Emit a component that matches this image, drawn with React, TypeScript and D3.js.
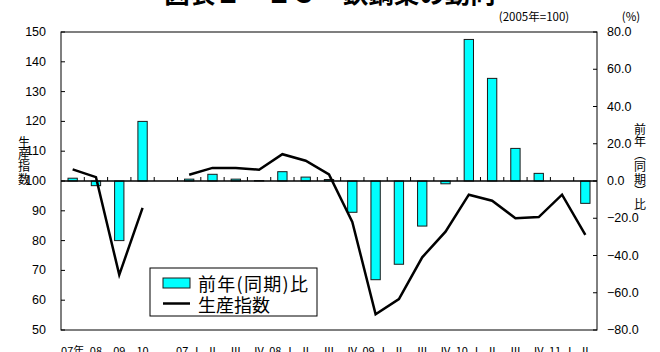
import React from "react";
import * as d3 from "d3";

const categories = ["07年", "08", "09", "10", "", "07.Ⅰ", "Ⅱ", "Ⅲ", "Ⅳ", "08.Ⅰ", "Ⅱ", "Ⅲ", "Ⅳ", "09.Ⅰ", "Ⅱ", "Ⅲ", "Ⅳ", "10.Ⅰ", "Ⅱ", "Ⅲ", "Ⅳ", "11.Ⅰ", "Ⅱ"];
const yoyChange: (number | null)[] = [1.5, -2.5, -32, 32, null, 1.0, 3.6, 1.0, 0.2, 5.0, 2.1, 0.8, -16.8, -53, -44.7, -24.2, -1.5, 76, 55.1, 17.5, 4.1, 0, -12];
const productionIndex: (number | null)[] = [103.9, 101.3, 68.5, 91.0, null, 102.1, 104.4, 104.4, 103.8, 109.0, 106.8, 102.2, 86.3, 55.3, 60.4, 74.4, 83.0, 95.4, 93.4, 87.5, 87.9, 95.4, 81.9];
const leftTicks = [50, 60, 70, 80, 90, 100, 110, 120, 130, 140, 150];
const rightTicks = [-80, -60, -40, -20, 0, 20, 40, 60, 80];
const title = "図表１－１３　鉄鋼業の動向";
const leftTitle = ["生", "産", "指", "数"];
const rightTitle = ["前", "年", "︵", "同", "期", "︶", "比"];

const W = 660, H = 352;
const L = 61, R = 597, T = 32, B = 330;
const JP = "'Noto Sans CJK JP', sans-serif";
const NUM = "'Liberation Sans', Arial, sans-serif";

export default function App() {
  const idx = categories.map((_, i) => String(i));
  const x = d3.scaleBand().domain(idx).range([L, R]).paddingInner(0).paddingOuter(0);
  const yL = d3.scaleLinear().domain([50, 150]).range([B, T]);
  const yR = d3.scaleLinear().domain([-80, 80]).range([B, T]);
  const bw = x.bandwidth() * 0.4;
  const cx = (i: number) => (x(String(i)) as number) + x.bandwidth() / 2;
  const line = d3
    .line<number | null>()
    .defined((d) => d != null)
    .x((_, i) => cx(i))
    .y((d) => yL(d as number));
  const fmt = d3.format(".1f");
  const y0 = yR(0);

  return (
    <svg width={W} height={H} style={{ position: "absolute", left: 0, top: 0, background: "#fff" }}>
      <rect x={0} y={0} width={W} height={H} fill="#fff" />
      <text x={330} y={3} textAnchor="middle" fontFamily={JP} fontWeight="bold" fontSize={25.5}>{title}</text>
      <text x={534} y={16} textAnchor="middle" dominantBaseline="central" fontFamily={JP} fontSize={11.5}>(2005年=100)</text>
      <text x={631} y={16} textAnchor="middle" dominantBaseline="central" fontFamily={JP} fontSize={11.5}>(%)</text>

      {/* bars */}
      {yoyChange.map((v, i) =>
        v == null ? null : (
          <rect key={"b" + i} x={cx(i) - bw / 2} y={Math.min(yR(v), y0)} width={bw} height={Math.abs(yR(v) - y0)} fill="#00FFFF" stroke="#1a1a1a" strokeWidth={1} />
        )
      )}

      {/* zero axis with ticks */}
      <line x1={L} x2={R} y1={y0} y2={y0} stroke="#000" strokeWidth={1.3} />
      {idx.map((d, i) =>
        i === 0 ? null : <line key={"xt" + i} x1={x(d) as number} x2={x(d) as number} y1={y0 - 4} y2={y0} stroke="#000" strokeWidth={1} />
      )}

      {/* frame */}
      <rect x={L} y={T} width={R - L} height={B - T} fill="none" stroke="#000" strokeWidth={1} />

      {/* left axis */}
      {leftTicks.map((t) => (
        <g key={"l" + t}>
          <line x1={L} x2={L + 4} y1={yL(t)} y2={yL(t)} stroke="#000" />
          <text x={46} y={yL(t)} textAnchor="end" dominantBaseline="central" fontFamily={NUM} fontSize={12.5}>{t}</text>
        </g>
      ))}
      {/* right axis */}
      {rightTicks.map((t) => (
        <g key={"r" + t}>
          <line x1={R - 4} x2={R} y1={yR(t)} y2={yR(t)} stroke="#000" />
          <text x={607} y={yR(t)} textAnchor="start" dominantBaseline="central" fontFamily={NUM} fontSize={12.5}>{fmt(t)}</text>
        </g>
      ))}

      {/* line */}
      <path d={line(productionIndex) || ""} fill="none" stroke="#000" strokeWidth={2.5} strokeLinejoin="miter" />

      {/* x labels */}
      {categories.map((c, i) => (
        <text key={"xl" + i} x={cx(i)} y={355} textAnchor="middle" fontFamily={JP} fontSize={11}>{c}</text>
      ))}

      {/* axis titles */}
      {leftTitle.map((c, i) => (
        <text key={"lt" + i} x={24} y={141.5 + i * 12.2} textAnchor="middle" dominantBaseline="central" fontFamily={JP} fontSize={12}>{c}</text>
      ))}
      {rightTitle.map((c, i) => (
        <text key={"rt" + i} x={640} y={128 + i * 12.5} textAnchor="middle" dominantBaseline="central" fontFamily={JP} fontSize={12}>{c}</text>
      ))}

      {/* legend */}
      <rect x={150} y={268} width={167} height={48} fill="#fff" stroke="#000" strokeWidth={1} />
      <rect x={163} y={278} width={27} height={10} fill="#00FFFF" stroke="#1a1a1a" strokeWidth={1} />
      <text x={198} y={283} dominantBaseline="central" fontFamily={JP} fontSize={18} textLength={110} lengthAdjust="spacing">前年(同期)比</text>
      <line x1={163} x2={190} y1={303.5} y2={303.5} stroke="#000" strokeWidth={2.5} />
      <text x={198} y={303.5} dominantBaseline="central" fontFamily={JP} fontSize={18}>生産指数</text>
    </svg>
  );
}
